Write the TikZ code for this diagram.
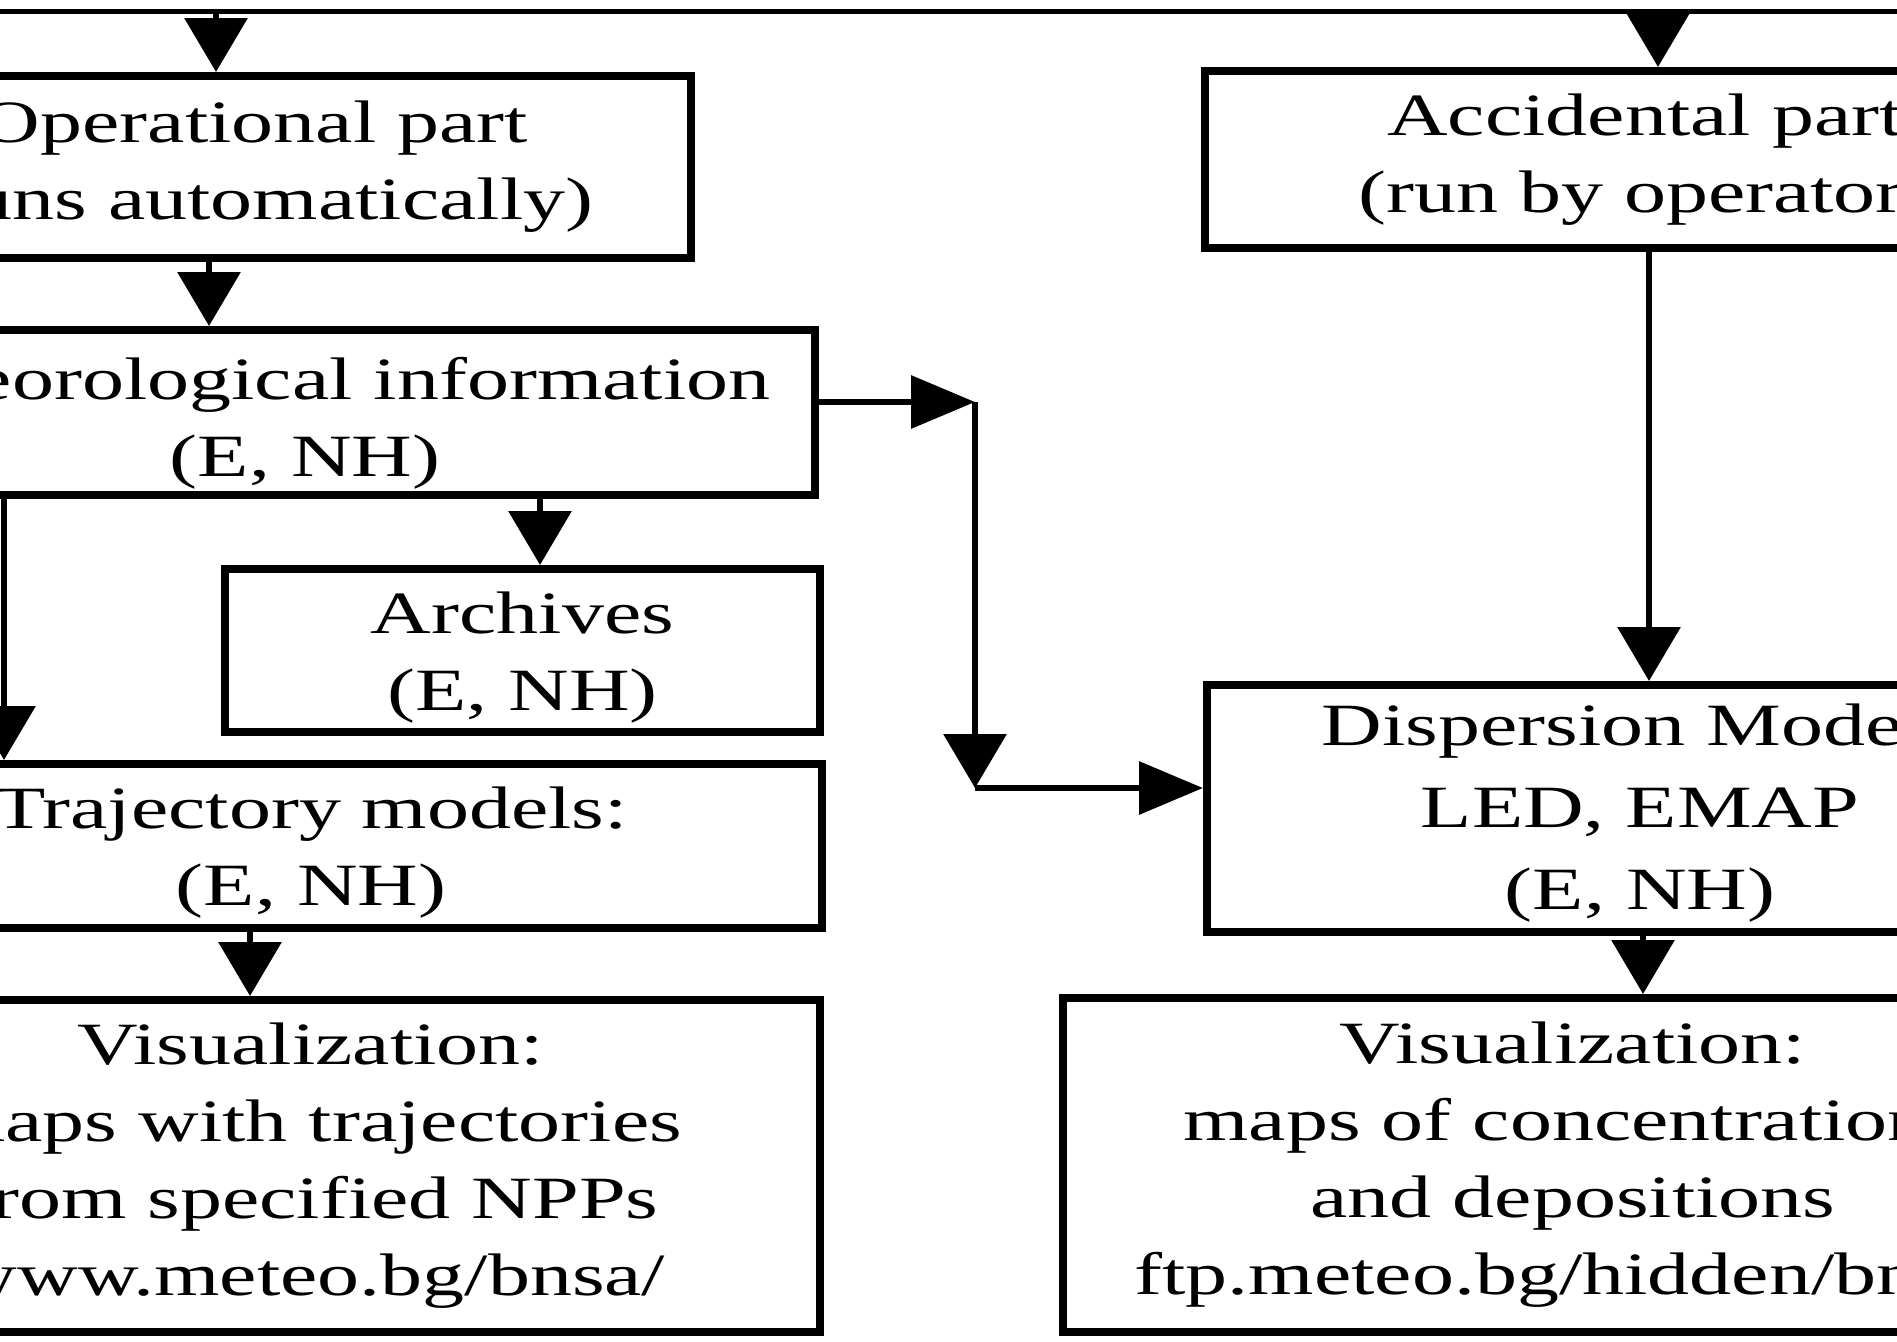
\documentclass[tikz,border=0pt]{standalone}
\usepackage{fontspec}
\setmainfont{Liberation Serif}[FakeStretch=1.4]
\usetikzlibrary{arrows.meta}
\newcommand{\tlift}[1]{\rule{0pt}{#1}}
\begin{document}
\begin{tikzpicture}[x=1pt,y=-1pt,
  box/.style={draw, line width=8pt, rectangle, inner sep=0pt, align=center,
    font=\fontsize{60}{77}\selectfont},
  conn/.style={line width=6.5pt},
  arrV/.style={conn, -{Triangle[length=54pt,width=62pt]}},
  arrH/.style={conn, -{Triangle[length=64pt,width=52pt]}}]
\useasboundingbox (0,0) rectangle (1897,1341);
\clip (0,0) rectangle (1897,1341);
\fill[white] (0,0) rectangle (1897,1341);

% boxes (left column)
\node[box, minimum width=874pt, minimum height=182pt] (op) at (254,167)
  {Operational part\\(runs automatically)};
\node[box, minimum width=1020pt, minimum height=165pt] (meteo) at (305,412.5)
  {\tlift{63pt}Meteorological information\\(E, NH)};
\node[box, minimum width=595pt, minimum height=163pt] (arch) at (522.5,650.5)
  {\tlift{55pt}Archives\\(E, NH)};
\node[box, minimum width=1022pt, minimum height=164pt] (traj) at (311,846)
  {\tlift{55pt}Trajectory models:\\(E, NH)};
\node[box, minimum width=1018pt, minimum height=332pt] (visL) at (311,1166)
  {Visualization:\\maps with trajectories\\from specified NPPs\\www.meteo.bg/bnsa/};

% boxes (right column)
\node[box, minimum width=880pt, minimum height=177pt] (acc) at (1645,159.5)
  {Accidental part\\(run by operator)};
\node[box, minimum width=866pt, minimum height=247pt] (disp) at (1640,808.5)
  {\tlift{51pt}Dispersion Models\\[5pt]LED, EMAP\\[5pt](E, NH)};
\node[box, minimum width=1020pt, minimum height=334pt] (visR) at (1573,1165)
  {Visualization:\\maps of concentrations\\and depositions\\ftp.meteo.bg/hidden/bnsa/};

% top line
\coordinate (topL) at (0,11);
\coordinate (topR) at (1897,11);
\draw[line width=5pt] (topL) -- (topR);
\coordinate (t1) at (216,11);
\coordinate (t2) at (1658,11);
\draw[arrV] (t1) -- (t1 |- op.north);
\draw[arrV] (t2) -- (t2 |- acc.north);

% left column connectors
\coordinate (x1) at (209,0);
\coordinate (x2) at (540,0);
\coordinate (x3) at (4,0);
\coordinate (x4) at (250,0);
\draw[arrV] (x1 |- op.south) -- (x1 |- meteo.north);
\draw[arrV] (x2 |- meteo.south) -- (x2 |- arch.north);
\draw[arrV] (x3 |- meteo.south) -- (x3 |- traj.north);
\draw[arrV] (x4 |- traj.south) -- (x4 |- visL.north);

% meteo -> dispersion
\coordinate (c1) at (975,402);
\coordinate (c2) at (975,788);
\draw[arrH] (c1 -| meteo.east) -- (c1);
\draw[arrV] (c1) -- (c2);
\draw[arrH] (c2) -- (c2 -| disp.west);

% right column connectors
\coordinate (x5) at (1649,0);
\coordinate (x6) at (1643,0);
\draw[arrV] (x5 |- acc.south) -- (x5 |- disp.north);
\draw[arrV] (x6 |- disp.south) -- (x6 |- visR.north);
\end{tikzpicture}
\end{document}
